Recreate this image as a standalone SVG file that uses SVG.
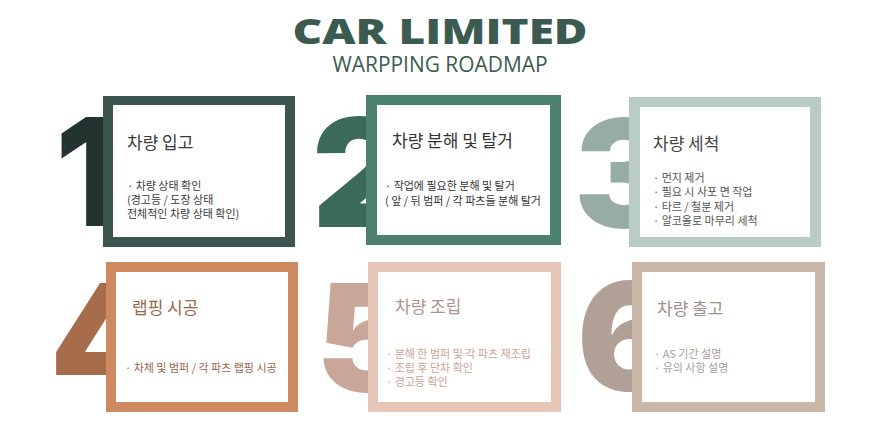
<svg xmlns="http://www.w3.org/2000/svg" width="886" height="436" viewBox="0 0 886 436">
<style>
.num{font-family:Inter,"Liberation Sans",sans-serif;font-weight:900;font-size:150px}
.ttl{font-family:"Noto Sans CJK KR","Noto Sans",sans-serif;font-size:17px}
.body{font-family:"Noto Sans CJK KR","Noto Sans",sans-serif;font-size:11px}
.inner{fill:#ffffff}
</style>
<rect width="886" height="436" fill="#ffffff"/>
<g id="header">
<text x="440" y="44" text-anchor="middle" textLength="295" lengthAdjust="spacingAndGlyphs" style="font-family:'Open Sans','Liberation Sans',sans-serif;font-weight:800;font-size:36px" fill="#3b5a50">CAR LIMITED</text>
<text x="440" y="72" text-anchor="middle" textLength="215" lengthAdjust="spacingAndGlyphs" style="font-family:'Open Sans','Liberation Sans',sans-serif;font-weight:400;font-size:22px" fill="#3b5a50">WARPPING ROADMAP</text>
</g>
<g id="connectors"></g>
<g id="step1">
<text class="num" x="55" y="226" fill="#233330">1</text>
<rect x="103" y="96" width="192" height="151" fill="#3d554f"/>
<rect class="inner" x="113" y="105" width="172" height="132"/>
<text class="ttl" x="127" y="149" fill="#3a3a3a">차량 입고</text>
<text class="body" fill="#3a3a3a"><tspan x="127" y="190">· 차량 상태 확인</tspan><tspan x="127" y="204">(경고등 / 도장 상태</tspan><tspan x="127" y="218">전체적인 차량 상태 확인)</tspan></text>
</g>
<g id="step2">
<text class="num" x="312" y="227" fill="#3c6a5a">2</text>
<rect x="366" y="95" width="195" height="150" fill="#4d8270"/>
<rect class="inner" x="377" y="105" width="173" height="130"/>
<text class="ttl" x="392" y="147" fill="#333333">차량 분해 및 탈거</text>
<text class="body" fill="#333333"><tspan x="385" y="190">· 작업에 필요한 분해 및 탈거</tspan><tspan x="385" y="205">( 앞 / 뒤 범퍼  / 각 파츠들 분해 탈거</tspan></text>
</g>
<g id="step3">
<text class="num" x="574" y="228" fill="#98aca6">3</text>
<rect x="629" y="97" width="192" height="150" fill="#b9ccc6"/>
<rect class="inner" x="640" y="107" width="170" height="130"/>
<text class="ttl" x="653" y="150" fill="#444444">차량 세척</text>
<text class="body" fill="#555555"><tspan x="653" y="182">· 먼지 제거</tspan><tspan x="653" y="196">· 필요 시 사포 면 작업</tspan><tspan x="653" y="211">· 타르 / 철분 제거</tspan><tspan x="653" y="225">· 알코올로 마무리 세척</tspan></text>
</g>
<g id="step4">
<text class="num" x="50" y="392" fill="#a76c4a">4</text>
<rect x="106" y="262" width="192" height="150" fill="#cd8a60"/>
<rect class="inner" x="116" y="272" width="172" height="130"/>
<text class="ttl" x="132" y="314" fill="#9a6650">랩핑 시공</text>
<text class="body" fill="#9a6650"><tspan x="125" y="372">· 차체 및 범퍼 / 각 파츠 랩핑 시공</tspan></text>
</g>
<g id="step5">
<text class="num" x="316" y="392" fill="#c8a698">5</text>
<rect x="368" y="262" width="193" height="150" fill="#e6c7b7"/>
<rect class="inner" x="378" y="272" width="173" height="130"/>
<text class="ttl" x="395" y="313" fill="#b0938a">차량 조립</text>
<text class="body" fill="#c9a596"><tspan x="386" y="358">· 분해 한 범퍼 및 각 파츠 재조립</tspan><tspan x="386" y="372">· 조립 후 단차 확인</tspan><tspan x="386" y="386">· 경고등 확인</tspan></text>
</g>
<g id="step6">
<text class="num" x="577" y="391" fill="#b0a096">6</text>
<rect x="632" y="262" width="193" height="150" fill="#c9b8a7"/>
<rect class="inner" x="642" y="272" width="173" height="130"/>
<text class="ttl" x="657" y="315" fill="#9b918b">차량 출고</text>
<text class="body" fill="#a8a09a"><tspan x="654" y="358">· AS 기간 설명</tspan><tspan x="654" y="372">· 유의 사항 설명</tspan></text>
</g>
</svg>
